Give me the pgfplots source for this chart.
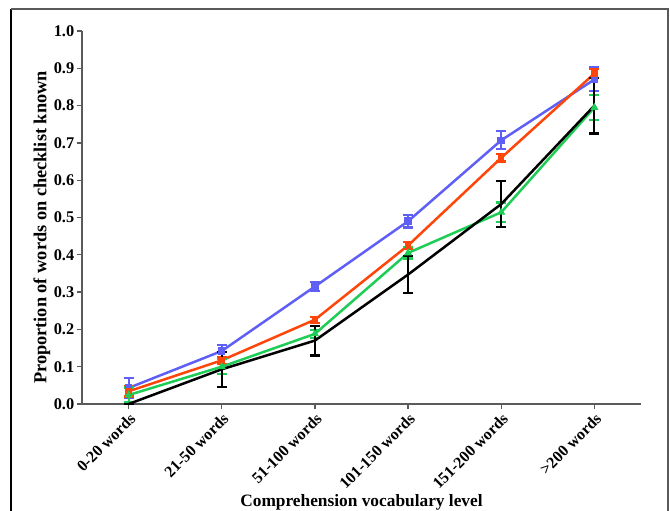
\documentclass[border=0pt]{standalone}
\usepackage{fontspec}
\setmainfont{Liberation Serif}
\usepackage{pgfplots}
\pgfplotsset{compat=1.18}

\definecolor{cblue}{RGB}{95,95,245}
\definecolor{cred}{RGB}{255,70,10}
\definecolor{cgreen}{RGB}{30,205,85}
\definecolor{axgray}{RGB}{90,90,90}

\begin{document}
\begin{tikzpicture}
\useasboundingbox (0,0) rectangle (402pt,306.6pt);
% outer frame of the figure
\draw[line width=1.2pt, black] (6.6pt,-3pt) -- (6.6pt,301.2pt);
\draw[line width=1.2pt, gray!70!black] (6.6pt,301.2pt) -- (400.8pt,301.2pt) -- (400.8pt,-3pt);
\begin{axis}[
    at={(49.2pt,64.2pt)}, anchor=south west,
    scale only axis,
    width=335.4pt, height=223.8pt,
    axis lines=left,
    axis line style={axgray, line width=0.8pt, -},
    tick style={axgray, line width=0.8pt},
    tick align=outside,
    major tick length=3pt,
    xmin=-0.5, xmax=5.5,
    ymin=0, ymax=1.0,
    xtick={0,1,2,3,4,5},
    xticklabels={0-20 words,21-50 words,51-100 words,101-150 words,151-200 words,>200 words},
    xticklabel style={rotate=45, anchor=north east, inner sep=1pt, font=\bfseries\fontsize{9.6}{11}\selectfont},
    ytick={0,0.1,...,1.0},
    yticklabel style={font=\bfseries\fontsize{9.8}{11}\selectfont, inner sep=1.5pt, /pgf/number format/fixed, /pgf/number format/fixed zerofill, /pgf/number format/precision=1},
    /pgf/number format/assume math mode=true,
    xlabel={Comprehension vocabulary level},
    ylabel={Proportion of words on checklist known},
    xlabel style={font=\bfseries\fontsize{10.4}{12}\selectfont, yshift=2pt},
    ylabel style={font=\bfseries\fontsize{11}{12}\selectfont, at={(ticklabel cs:0.473)}, yshift=-3pt},
    every axis plot/.append style={line width=1.5pt},
    error bars/y dir=both,
    error bars/y explicit,
    error bars/error bar style={line width=1.3pt},
    error bars/error mark options={rotate=90, mark size=3pt, line width=1.3pt},
    clip=false,
]
\addplot[cblue, mark=square*, mark size=1.5pt] coordinates {
    (0,0.043) +- (0,0.026)
    (1,0.142) +- (0,0.016)
    (2,0.315) +- (0,0.013)
    (3,0.490) +- (0,0.017)
    (4,0.707) +- (0,0.024)
    (5,0.870) +- (0,0.032)
};
\addplot[cred, mark=square*, mark size=1.2pt] coordinates {
    (0,0.034) +- (0,0.014)
    (1,0.117) +- (0,0.010)
    (2,0.226) +- (0,0.008)
    (3,0.425) +- (0,0.010)
    (4,0.660) +- (0,0.010)
    (5,0.886) +- (0,0.012)
};
\addplot[cgreen, mark=triangle*, mark size=1.3pt] coordinates {
    (0,0.024) +- (0,0.020)
    (1,0.100) +- (0,0.020)
    (2,0.188) +- (0,0.010)
    (3,0.405) +- (0,0.015)
    (4,0.514) +- (0,0.026)
    (5,0.795) +- (0,0.034)
};
\addplot[black, mark=none] coordinates {
    (0,0.000) +- (0,0.000)
    (1,0.093) +- (0,0.047)
    (2,0.170) +- (0,0.040)
    (3,0.347) +- (0,0.050)
    (4,0.536) +- (0,0.061)
    (5,0.800) +- (0,0.075)
};
\end{axis}
\end{tikzpicture}
\end{document}
